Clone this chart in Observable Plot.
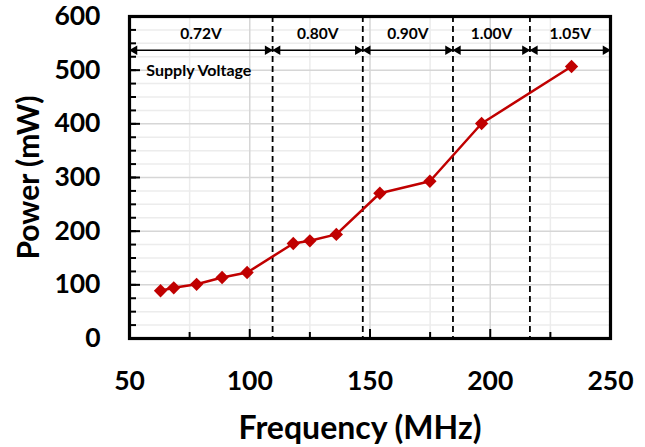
<!DOCTYPE html>
<html><head><meta charset="utf-8">
<script src="https://cdn.jsdelivr.net/npm/d3@7"></script>
<script src="https://cdn.jsdelivr.net/npm/@observablehq/plot@0.6"></script>
<style>body{margin:0;background:#fff}</style>
</head><body><div id="chart"></div>
<script>
const freq = [62.9, 68.4, 77.9, 88.5, 98.9, 118.1, 125.0, 136.0, 154.1, 174.9, 196.4, 233.8];
const power = [89, 94.5, 101, 113.7, 123, 177, 182, 194, 270.7, 293, 400.6, 506.8];
const voltLabels = ["0.72V", "0.80V", "0.90V", "1.00V", "1.05V"];
const voltBounds = [50, 109.5, 147, 184.5, 216.5, 250];
const xTickLabels = [50, 100, 150, 200, 250];
const yTickLabels = [0, 100, 200, 300, 400, 500, 600];
const arrowLevel = 537;
const labelLevel = 568;
const noteLevel = 499;
const noteText = "Supply Voltage";

const pts = freq.map((f, i) => ({f, p: power[i]}));
const segs = voltLabels.map((v, i) => ({v, a: voltBounds[i], b: voltBounds[i + 1], m: (voltBounds[i] + voltBounds[i + 1]) / 2}));
const dividers = voltBounds.slice(1, -1);

const fontFamily = "Lato, 'Open Sans', sans-serif";

const chart = Plot.plot({
  width: 645, height: 447,
  marginLeft: 129, marginRight: 35, marginTop: 16, marginBottom: 109,
  style: {fontFamily, fontWeight: "bold", color: "#000", background: "#fff"},
  x: {domain: [50, 250]},
  y: {domain: [0, 600]},
  marks: [
    Plot.ruleY(d3.range(25, 600, 25).filter(d => d % 100), {stroke: "#ececec", strokeWidth: 1.5}),
    Plot.ruleX(d3.range(75, 250, 50), {stroke: "#ececec", strokeWidth: 1.5}),
    Plot.ruleY([100, 200, 300, 400, 500], {stroke: "#d6d6d6", strokeWidth: 1.5}),
    Plot.ruleX([100, 150, 200], {stroke: "#d6d6d6", strokeWidth: 1.5}),
    Plot.ruleX(dividers, {stroke: "#000", strokeWidth: 1.8, strokeDasharray: "6,4"}),
    Plot.ruleY(segs, {y: () => arrowLevel, x1: "a", x2: "b", stroke: "#000", strokeWidth: 1.5}),
    Plot.dot(segs, {x: "a", y: () => arrowLevel, symbol: "triangle2", rotate: -90, r: 4.5, fill: "#000", dx: 5}),
    Plot.dot(segs, {x: "b", y: () => arrowLevel, symbol: "triangle2", rotate: 90, r: 4.5, fill: "#000", dx: -5}),
    Plot.text(segs, {x: "m", y: () => labelLevel, text: "v", fontSize: 15.5, fill: "#000"}),
    Plot.text([noteText], {x: 57, y: noteLevel, text: d => d, textAnchor: "start", fontSize: 16, fill: "#000"}),
    Plot.line(pts, {x: "f", y: "p", stroke: "#c00000", strokeWidth: 2.5}),
    Plot.dot(pts, {x: "f", y: "p", symbol: "diamond2", r: 6, fill: "#c00000"}),
    Plot.axisY(d3.range(0, 601, 25), {tickSize: -7, text: null, label: null, strokeWidth: 2}),
    Plot.axisY(yTickLabels, {tickSize: 0, tickPadding: 29, fontSize: 26.5, label: "Power (mW)", labelAnchor: "center", labelOffset: 112, labelArrow: "none"}),
    Plot.axisY(yTickLabels, {tickSize: -11, text: null, label: null, strokeWidth: 2}),
    Plot.axisX([75, 125, 175, 225], {tickSize: -6, text: null, label: null, strokeWidth: 2}),
    Plot.axisX([100, 150, 200], {tickSize: -9, text: null, label: null, strokeWidth: 2}),
    Plot.axisX(xTickLabels, {tickSize: 0, tickPadding: 33, fontSize: 26.5, label: "Frequency (MHz)", labelAnchor: "center", labelOffset: 100, labelArrow: "none"}),
    Plot.frame({stroke: "#000", strokeWidth: 3.2})
  ]
});
chart.querySelectorAll("[aria-label='y-axis label'] text").forEach(t => t.setAttribute("font-size", 30));
chart.querySelectorAll("[aria-label='x-axis label'] text").forEach(t => { t.setAttribute("font-size", 32); t.setAttribute("dx", -10); });
document.getElementById("chart").appendChild(chart);
</script>
</body></html>
